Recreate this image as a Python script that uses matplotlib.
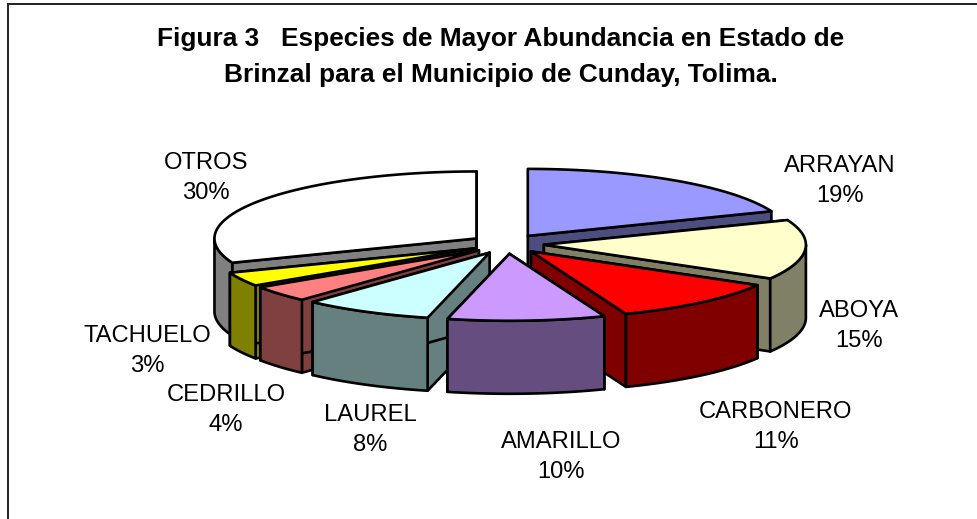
import matplotlib
matplotlib.use("Agg")
import matplotlib.pyplot as plt
from matplotlib.patches import Polygon
import numpy as np

# values, porcentajes are what the labels print
especies = ["ARRAYAN", "ABOYA", "CARBONERO", "AMARILLO", "LAUREL", "CEDRILLO", "TACHUELO", "OTROS"]
valores = [19.0, 14.4, 10.7, 9.7, 8.0, 3.9, 3.4, 30.9]
porcentajes = [19, 15, 11, 10, 8, 4, 3, 30]
colores = ["#9999FF", "#FFFFCC", "#FF0000", "#CC99FF", "#CCFFFF", "#FF8080", "#FFFF00", "#FFFFFF"]
titulo = "Figura 3   Especies de Mayor Abundancia en Estado de\nBrinzal para el Municipio de Cunday, Tolima."

# layout, in pixels
cx, cy = 507, 244
rx, ry = 262, 67
exp_x, exp_y = 37, 9.8
alto = 73
orden = [7, 0, 6, 5, 4, 1, 2, 3]  # back to front
pos_labels = [(840, 181), (859, 326), (776, 427), (561, 457), (370, 430), (226, 410), (147, 351), (206, 178)]

plt.rcParams["font.family"] = ["Liberation Sans", "DejaVu Sans"]

fig = plt.figure(figsize=(9.78, 5.19), dpi=100)
ax = fig.add_axes([0, 0, 1, 1])
ax.set_xlim(0, 978)
ax.set_ylim(519, 0)
ax.axis("off")

# chart frame, only left and top are inside the picture
ax.plot([8, 8, 980], [519, 4, 4], color="#222222", lw=1.4, solid_joinstyle="miter")


def oscuro(color):
    r, g, b = matplotlib.colors.to_rgb(color)
    return (r / 2, g / 2, b / 2)


def borde(ang, x0, y0):
    return x0 + rx * np.sin(ang), y0 - ry * np.cos(ang)


def cara(xs, ys, color, z):
    ax.add_patch(Polygon(np.column_stack([xs, ys]), closed=True, facecolor=color,
                         edgecolor="black", lw=1.9, joinstyle="round", zorder=z))


fracs = np.array(valores) / sum(valores) * 2 * np.pi
fin = np.cumsum(fracs)
ini = fin - fracs

z = 1
for i in orden:
    a0, a1 = ini[i], fin[i]
    med = (a0 + a1) / 2
    x0 = cx + exp_x * np.sin(med)
    y0 = cy - exp_y * np.cos(med)
    lado = oscuro(colores[i])

    # radial walls first, the top and the rim cover the hidden one
    for a in (a0, a1):
        xb, yb = borde(a, x0, y0)
        cara([x0, xb, xb, x0], [y0, yb, yb + alto, y0 + alto], lado, z)
    z += 1

    # rim wall, only the part that faces the viewer
    v0, v1 = max(a0, np.pi / 2), min(a1, 3 * np.pi / 2)
    if v1 > v0:
        arco = np.linspace(v0, v1, 80)
        xa, ya = borde(arco, x0, y0)
        cara(np.r_[xa, xa[::-1]], np.r_[ya, ya[::-1] + alto], lado, z)
    z += 1

    arco = np.linspace(a0, a1, 120)
    xa, ya = borde(arco, x0, y0)
    cara(np.r_[x0, xa], np.r_[y0, ya], colores[i], z)
    z += 1

for nombre, pct, (lx, ly) in zip(especies, porcentajes, pos_labels):
    ax.text(lx, ly, f"{nombre}\n{pct}%", ha="center", va="center",
            fontsize=17.1, color="black", linespacing=1.42, zorder=50)

ax.text(501, 57, titulo, ha="center", va="center", fontsize=18.9, fontweight="bold",
        color="black", linespacing=1.6, zorder=50)

fig.savefig("out.png", dpi=100)
